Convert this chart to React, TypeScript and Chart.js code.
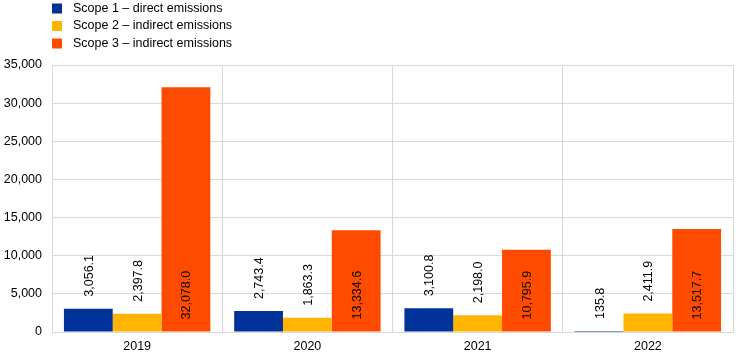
import React, { useEffect, useRef } from "react";
import { Chart, registerables } from "chart.js";

Chart.register(...registerables);

const categories = ["2019", "2020", "2021", "2022"];
const scope1 = [3056.1, 2743.4, 3100.8, 135.8];
const scope2 = [2397.8, 1863.3, 2198.0, 2411.9];
const scope3 = [32078.0, 13334.6, 10795.9, 13517.7];
const seriesNames = [
  "Scope 1 \u2013 direct emissions",
  "Scope 2 \u2013 indirect emissions",
  "Scope 3 \u2013 indirect emissions",
];
const colors = ["#003299", "#FFB400", "#FF4B00"];
const FONT = "'Liberation Sans', Arial, sans-serif";
const FS = 12.5;

const fmt = (v: number) =>
  v.toLocaleString("en-US", { minimumFractionDigits: 1, maximumFractionDigits: 1 });

const labelPlugin = {
  id: "valueLabels",
  afterDatasetsDraw(chart: any) {
    const ctx = chart.ctx;
    ctx.save();
    ctx.font = `${FS}px ${FONT}`;
    ctx.fillStyle = "#000";
    ctx.textBaseline = "middle";
    ctx.textAlign = "left";
    chart.data.datasets.forEach((ds: any, di: number) => {
      const meta = chart.getDatasetMeta(di);
      meta.data.forEach((bar: any, i: number) => {
        const text = fmt(ds.data[i]);
        const w = ctx.measureText(text).width;
        const h = bar.base - bar.y;
        let start: number;
        if (h > w + 30) start = bar.base - 12;
        else start = bar.y - 12;
        ctx.save();
        ctx.translate(bar.x + 1, start);
        ctx.rotate(-Math.PI / 2);
        ctx.fillText(text, 0, 0);
        ctx.restore();
      });
    });
    ctx.restore();
  },
};

const legendPlugin = {
  id: "customLegend",
  afterDraw(chart: any) {
    const ctx = chart.ctx;
    ctx.save();
    ctx.font = `${FS}px ${FONT}`;
    ctx.textBaseline = "middle";
    ctx.textAlign = "left";
    seriesNames.forEach((name, i) => {
      const cy = 8.5 + i * 17.5;
      ctx.fillStyle = colors[i];
      ctx.fillRect(52, cy - 5, 10, 10);
      ctx.fillStyle = "#000";
      ctx.fillText(name, 73, cy);
    });
    ctx.restore();
  },
};

export default function App() {
  const ref = useRef<HTMLCanvasElement>(null);
  useEffect(() => {
    document.body.style.margin = "0";
    const chart = new Chart(ref.current!, {
      type: "bar",
      data: {
        labels: categories,
        datasets: [scope1, scope2, scope3].map((d, i) => ({
          label: seriesNames[i],
          data: d,
          backgroundColor: colors[i],
          borderWidth: 0,
          categoryPercentage: 0.86,
          barPercentage: 1.0,
        })),
      },
      options: {
        animation: false,
        responsive: false,
        maintainAspectRatio: false,
        layout: { padding: { top: 65, right: 11, left: 0, bottom: 0 } },
        plugins: { legend: { display: false }, tooltip: { enabled: false } },
        scales: {
          x: {
            grid: { color: "#d9d9d9", drawTicks: false, offset: true },
            border: { color: "#d9d9d9" },
            ticks: { color: "#000", font: { family: FONT, size: FS }, padding: 7 },
            afterFit: (s: any) => {
              s.height = 28;
            },
          },
          y: {
            min: 0,
            max: 35000,
            grid: { color: "#d9d9d9", drawTicks: false },
            border: { color: "#d9d9d9" },
            ticks: {
              stepSize: 5000,
              color: "#000",
              font: { family: FONT, size: FS },
              padding: 10,
              callback: (v: any) => Number(v).toLocaleString("en-US"),
            },
            afterFit: (s: any) => {
              s.width = 52;
            },
          },
        },
      },
      plugins: [labelPlugin, legendPlugin],
    });
    return () => chart.destroy();
  }, []);
  return <canvas ref={ref} width={744} height={360} style={{ display: "block" }} />;
}
